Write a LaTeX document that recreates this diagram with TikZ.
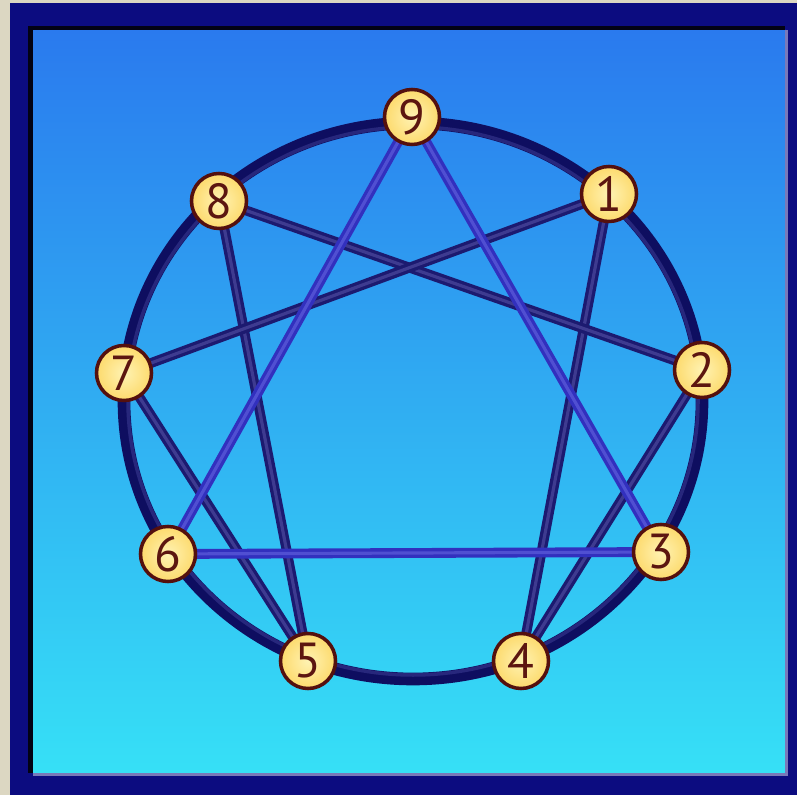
\documentclass[tikz,border=0pt]{standalone}
\usepackage{fontspec}
\setsansfont{PT Sans}
\usepackage{xcolor}
\usepackage{tikz}
\usetikzlibrary{calc}
\definecolor{paper}{RGB}{220,215,194}
\definecolor{frame}{RGB}{12,12,128}
\definecolor{skytop}{RGB}{42,122,238}
\definecolor{skybot}{RGB}{54,224,246}
\definecolor{ring}{RGB}{14,14,96}
\definecolor{ringhi}{RGB}{70,70,160}
\definecolor{hexa}{RGB}{28,26,112}
\definecolor{hexahi}{RGB}{96,92,176}
\definecolor{tri}{RGB}{50,48,190}
\definecolor{trihi}{RGB}{110,110,230}
\definecolor{pointfill}{RGB}{253,234,128}
\definecolor{pointedge}{RGB}{84,16,14}
\definecolor{digit}{RGB}{92,22,16}

\begin{document}
\begin{tikzpicture}[x=0.01cm,y=-0.01cm,
  point/.style={circle,draw=pointedge,line width=1pt,inner sep=0pt,minimum size=0.55cm,
    inner color=pointfill!60!white,outer color=pointfill!85!orange,
    font=\sffamily\fontsize{14}{14}\selectfont,text=digit},
  tube/.style={line width=#1,line cap=round}]
  \useasboundingbox (0,0) rectangle (797,795);
  % frame and sky
  \fill[paper] (0,0) rectangle (797,795);
  \fill[frame] (10,3) rectangle (797,795);
  \shade[top color=skytop,bottom color=skybot] (33,30) rectangle (785,773);
  \fill[black!85!frame] (28,26) rectangle (33,773);
  \fill[black!85!frame] (28,26) rectangle (785,30);
  \fill[frame!55!white] (785,30) rectangle (788,776);
  \fill[frame!55!white] (33,773) rectangle (788,776);
  % point positions
  \foreach \n/\x/\y in {9/412/117,1/609/194,2/702/370,3/661/552,4/521/661,5/308/661,6/168/554,7/124/373,8/219/201}
    \coordinate (P\n) at (\x,\y);
  % the ring
  \draw[ring,tube=3.6pt] (413,401) ellipse [x radius=289,y radius=278];
  \draw[ringhi,opacity=0.45,tube=1pt] (413,401) ellipse [x radius=285,y radius=274];
  % hexad 1-4-2-8-5-7-1
  \foreach \a/\b in {1/4,4/2,2/8,8/5,5/7,7/1} {
    \draw[hexa,tube=2.8pt] (P\a) -- (P\b);
    \draw[hexahi,opacity=0.5,tube=0.9pt] (P\a) -- (P\b);}
  % triangle 9-3-6
  \foreach \a/\b in {9/3,3/6,6/9} {
    \draw[tri,tube=2.8pt] (P\a) -- (P\b);
    \draw[trihi,opacity=0.5,tube=0.9pt] (P\a) -- (P\b);}
  % the nine points
  \foreach \n in {1,...,9}
    \node[point] (N\n) at (P\n) {\n};
\end{tikzpicture}
\end{document}
